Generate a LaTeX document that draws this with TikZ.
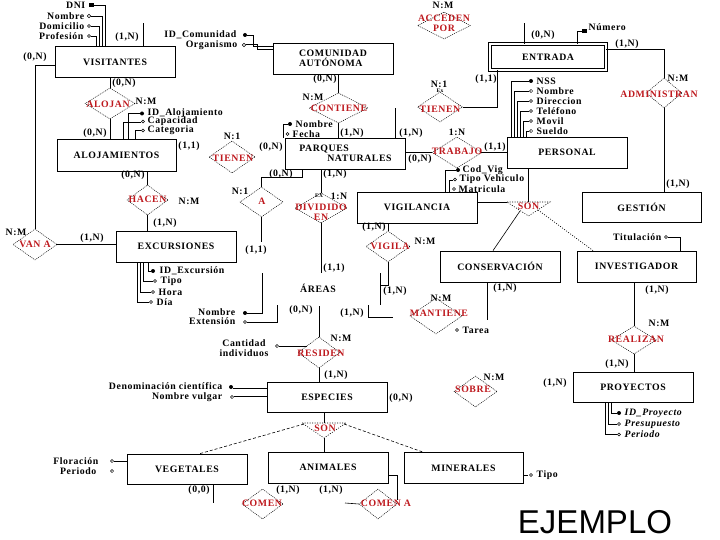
\documentclass[tikz,border=0pt]{standalone}
\usepackage{fontspec}
\setmainfont{Liberation Serif}[LetterSpace=6]
\newfontfamily\ejfont{Liberation Sans}
\usetikzlibrary{shapes.geometric}
\definecolor{relred}{RGB}{190,25,30}
\begin{document}
\begin{tikzpicture}[x=1pt,y=-1pt,
  every node/.style={font=\bfseries\fontsize{9.8}{10}\selectfont, inner sep=0.5pt},
  entbox/.style={draw, line width=0.8pt, rectangle, minimum width=120pt, minimum height=31pt, inner sep=1pt, align=center},
  reldia/.style={diamond, draw, line width=0.5pt, dash pattern=on 1pt off 1pt, inner sep=0pt},
  reltext/.style={text=relred, align=center},
  tinytxt/.style={font=\bfseries\fontsize{5.5}{6}\selectfont},
  italattr/.style={font=\bfseries\itshape\fontsize{9.8}{10}\selectfont},
  conn/.style={line width=0.6pt},
  dotconn/.style={line width=0.6pt, dash pattern=on 1pt off 1.5pt},
  dashconn/.style={line width=0.6pt, dash pattern=on 3pt off 2pt},
  hmark/.style={line width=0.5pt},
]
\useasboundingbox (0,0) rectangle (720,540);

% ---------- entities
\node[entbox] (vis) at (115,62) {VISITANTES};
\node[entbox, align=left] (com) at (333,58.5) {COMUNIDAD\\AUTÓNOMA};
\node[entbox, double, double distance=2pt, minimum width=116pt, minimum height=26pt] (entr) at (548,57) {ENTRADA};
\node[entbox, minimum width=119pt, minimum height=32pt] (aloj) at (116.5,155) {ALOJAMIENTOS};
\node[entbox, align=left] (parq) at (345.5,153.5) {PARQUES\\\hspace*{28pt}NATURALES};
\node[entbox] (pers) at (567,152.5) {PERSONAL};
\node[entbox] (exc) at (176,246.5) {EXCURSIONES};
\node[entbox] (vig) at (417,207.5) {VIGILANCIA};
\node[entbox, minimum width=119pt, minimum height=30pt] (ges) at (641.5,207) {GESTIÓN};
\node[entbox] (cons) at (500,266.5) {CONSERVACIÓN};
\node[entbox, minimum width=119pt] (inv) at (636.5,266.5) {INVESTIGADOR};
\node (areas) at (318,288) {ÁREAS};
\node[entbox, minimum height=30pt] (esp) at (327,397) {ESPECIES};
\node[entbox, minimum height=30pt] (veg) at (187,469) {VEGETALES};
\node[entbox] (ani) at (328,467.5) {ANIMALES};
\node[entbox, minimum width=119pt] (mine) at (463.5,468) {MINERALES};
\node[entbox, minimum height=30pt] (proy) at (633,387) {PROYECTOS};

% ---------- relationships
\node[reldia, minimum width=53pt, minimum height=27pt] (acc) at (444,25.5) {};
\node[reltext] (accT) at (444,23) {ACCEDEN\\POR};
\node[reldia, minimum width=50pt, minimum height=31pt] (alojan) at (110,103.5) {};
\node[reltext] (alojanT) at (108,104) {ALOJAN};
\node[reldia, minimum width=59pt, minimum height=30pt] (contiene) at (338.5,108) {};
\node[reltext] (contieneT) at (339,108) {CONTIENE};
\node[reldia, minimum width=45pt, minimum height=30pt] (tienenR) at (440,107) {};
\node[reltext] (tienenRT) at (440,109) {TIENEN};
\node[reldia, minimum width=46pt, minimum height=32pt] (tienenL) at (232,157) {};
\node[reltext] (tienenLT) at (233,158) {TIENEN};
\node[reldia, minimum width=50pt, minimum height=31pt] (trabajo) at (457,152.5) {};
\node[reltext] (trabajoT) at (457,151) {TRABAJO};
\node[reldia, minimum width=41pt, minimum height=30pt] (hacen) at (147.5,200) {};
\node[reltext] (hacenT) at (147.5,199) {HACEN};
\node[reldia, minimum width=43pt, minimum height=30pt] (arel) at (261.5,202) {};
\node[reltext] (arelT) at (262,201) {A};
\node[reldia, minimum width=52pt, minimum height=30pt] (dividido) at (321,208) {};
\node[reltext] (divididoT) at (321,212) {DIVIDIDO\\EN};
\node[reldia, minimum width=44pt, minimum height=31pt] (vigila) at (388,246.5) {};
\node[reltext] (vigilaT) at (390,246) {VIGILA};
\node[reldia, minimum width=36pt, minimum height=30pt] (admin) at (664,93) {};
\node[reltext] (adminT) at (659,94) {ADMINISTRAN};
\node[reldia, minimum width=52pt, minimum height=36pt] (mantiene) at (436,316) {};
\node[reltext] (mantieneT) at (439,313) {MANTIENE};
\node[reldia, minimum width=42pt, minimum height=31pt] (residen) at (319,352.5) {};
\node[reltext] (residenT) at (321,353) {RESIDEN};
\node[reldia, minimum width=45pt, minimum height=28pt] (realizan) at (634,340) {};
\node[reltext] (realizanT) at (636,339) {REALIZAN};
\node[reldia, minimum width=43pt, minimum height=31pt] (sobre) at (475.5,391.5) {};
\node[reltext] (sobreT) at (473,389) {SOBRE};
\node[reldia, minimum width=44pt, minimum height=31pt] (vana) at (35,244.5) {};
\node[reltext] (vanaT) at (35,244) {VAN A};
\node[reldia, minimum width=41pt, minimum height=30pt] (comen) at (262.5,504) {};
\node[reltext] (comenT) at (262,503) {COMEN};
\node[reldia, minimum width=38pt, minimum height=30pt] (comena) at (378,504) {};
\node[reltext] (comenaT) at (386,503) {COMEN A};

% ---------- SON triangles
\coordinate (sg1) at (507,202);
\coordinate (sg2) at (550,202);
\coordinate (sg3) at (528.5,216);
\draw[dotconn] (sg1) -- (sg2) -- (sg3) -- cycle;
\node[reltext] (songes) at (528.5,206) {SON};
\coordinate (se1) at (302,423);
\coordinate (se2) at (346,423);
\coordinate (se3) at (324,438);
\draw[dotconn] (se1) -- (se2) -- (se3) -- cycle;
\node[reltext] (sonesp) at (325,428) {SON};

% ---------- top stubs (ACCEDEN POR)
\coordinate (visacc) at (143,23);
\coordinate (entacc) at (524,23);
\draw[conn] (vis.north -| visacc) -- (visacc);
\draw[conn] (entr.north -| entacc) -- (entacc);
\node (l1) at (127,37) {(1,N)};
\node (l2) at (543,35) {(0,N)};
\node (l3) at (443,5) {N:M};

% ---------- VISITANTES attributes
\node[anchor=east] (dni) at (86,5) {DNI};
\fill (89,3) rectangle (94,7);
\draw[conn] (94,5) -| (vis.north -| 105,0);
\node[anchor=east] (vnom) at (85,16) {Nombre};
\draw[hmark] (89,16) circle[radius=1.7pt];
\draw[conn] (91,16) -| (vis.north -| 102,0);
\node[anchor=east] (vdom) at (85,26) {Domicilio};
\draw[hmark] (89,26) circle[radius=1.5pt];
\draw[conn] (91,26) -| (vis.north -| 99,0);
\node[anchor=east] (vpro) at (84,36) {Profesión};
\draw[hmark] (89,36) circle[radius=1.5pt];
\draw[conn] (91,36) -| (vis.north -| 96,0);

% ---------- COMUNIDAD attributes
\node[anchor=east] (idcom) at (237,35) {ID\_Comunidad};
\fill (245,35) circle[radius=2pt];
\draw[conn] (247,35) -| (253,46) -- (com.west |- 0,46);
\node[anchor=east] (org) at (238,45.5) {Organismo};
\draw[hmark] (244,45) circle[radius=1.7pt];
\draw[conn] (246,44) -| (257,49) -- (com.west |- 0,49);

% ---------- VISITANTES - VAN A / ALOJAN
\draw[conn] (vis.west |- 0,65) -| (vana.north);
\node (l4) at (35,57) {(0,N)};
\draw[conn] (vis.south -| alojan) -- (alojan.north);
\node (l5) at (124,83) {(0,N)};
\draw[conn] (alojan.south) -- (aloj.north -| alojan);
\node (l6) at (95,133) {(0,N)};
\node (l7) at (146,101.5) {N:M};

% ---------- ALOJAMIENTOS attributes
\node[anchor=west] (idal) at (147,113) {ID\_Alojamiento};
\fill (142,113.5) circle[radius=2pt];
\draw[conn] (140,113.5) -| (aloj.north -| 128,0);
\node[anchor=west] (capa) at (147,121.5) {Capacidad};
\draw[hmark] (143,121.5) circle[radius=1.5pt];
\draw[conn] (141,122) -| (aloj.north -| 123,0);
\node[anchor=west] (cate) at (147,130.5) {Categoria};
\draw[hmark] (143,130.5) circle[radius=1.5pt];
\draw[conn] (141,130.5) -| (aloj.north -| 135,0);

% ---------- TIENEN (left) labels
\node (l8) at (189,146) {(1,1)};
\node (l9) at (232,136) {N:1};
\node (l10) at (271,147) {(0,N)};

% ---------- ALOJAMIENTOS - HACEN - EXCURSIONES
\draw[conn] (aloj.south -| hacen) -- (hacen.north);
\node (l11) at (133,175) {(0,N)};
\draw[conn] (hacen.south) -- (exc.north -| hacen);
\node (l12) at (165,223) {(1,N)};
\node (l13) at (189,201) {N:M};
\draw[conn] (vana.east) -- (vana.east -| exc.west);
\node (l14) at (92,238) {(1,N)};
\node (l15) at (16,232) {N:M};

% ---------- EXCURSIONES attributes
\node[anchor=west] (idex) at (159,271) {ID\_Excursión};
\fill (153,271) circle[radius=2pt];
\draw[conn] (exc.south -| 148,0) |- (151,271);
\node[anchor=west] (tipo1) at (160,281) {Tipo};
\draw[hmark] (155,281) circle[radius=1.6pt];
\draw[conn] (exc.south -| 143,0) |- (153,281);
\node[anchor=west] (hora) at (158,292) {Hora};
\draw[hmark] (153,292) circle[radius=1.6pt];
\draw[conn] (exc.south -| 140,0) |- (151,292);
\node[anchor=west] (dia) at (156,302) {Día};
\draw[hmark] (151,302) circle[radius=1.6pt];
\draw[conn] (exc.south -| 137,0) |- (149,302);

% ---------- COMUNIDAD - CONTIENE - PARQUES
\draw[conn] (com.south -| contiene) -- (contiene.north);
\node (l16) at (325,79) {(0,N)};
\node (l17) at (313,97) {N:M};
\draw[conn] (contiene.south) -- (parq.north -| contiene);
\node (l18) at (352,133) {(1,N)};
\node[anchor=west] (pnom) at (295,124) {Nombre};
\fill (290,124) circle[radius=2pt];
\node[anchor=west] (pfec) at (292,134) {Fecha};
\draw[hmark] (287.5,134) circle[radius=1.5pt];
\draw[conn] (288,124) -| (283,138);

% ---------- PARQUES - TIENEN (right) - ENTRADA
\coordinate (ptR) at (395,108);
\draw[conn] (parq.north -| ptR) -- (ptR);
\node (l19) at (411,133) {(1,N)};
\draw[conn] (tienenR.east) -| (entr.south -| 497,0);
\node (l20) at (486,79) {(1,1)};
\node (l21) at (439,84) {N:1};
\node[tinytxt] (ex1) at (440,91) {Ex};

% ---------- PARQUES - TRABAJO - PERSONAL
\draw[conn] (parq.east |- trabajo) -- (trabajo.west);
\node (l22) at (420,159) {(0,N)};
\draw[conn] (trabajo.east) -- (trabajo.east -| pers.west);
\node (l23) at (495,147) {(1,1)};
\node (l24) at (457,132) {1:N};

% ---------- VIGILANCIA attributes
\node[anchor=west] (codv) at (462,170) {Cod\_Vig};
\fill (458,170) circle[radius=2pt];
\draw[conn] (456,170) -| (vig.north -| 445,0);
\node[anchor=west] (tipv) at (459,179.5) {Tipo Vehiculo};
\draw[hmark] (455,179.5) circle[radius=1.5pt];
\draw[conn] (453,180) -| (vig.north -| 449,0);
\node[anchor=west] (matr) at (458,189) {Matricula};
\draw[hmark] (454,189) circle[radius=1.5pt];

% ---------- SON (personal)
\draw[conn] (pers.south -| sg3) -- (sg3 |- sg1);
\draw[conn] (vig.east |- sg1) -- (sg1);
\draw[conn] (520,211) -- (cons.north -| 493,0);
\draw[dotconn] (538,210) -- (inv.north -| 593,0);

% ---------- PERSONAL attributes
\node[anchor=west] (nss) at (536,81) {NSS};
\fill (531,81) circle[radius=2pt];
\draw[conn] (529,81) -| (pers.north -| 511,0);
\node[anchor=west] (pnom2) at (536,91) {Nombre};
\draw[hmark] (531,91) circle[radius=1.6pt];
\draw[conn] (529,91) -| (pers.north -| 514,0);
\node[anchor=west] (pdir) at (536,101) {Direccion};
\draw[hmark] (531,101) circle[radius=1.5pt];
\draw[conn] (529,101) -| (pers.north -| 517,0);
\node[anchor=west] (ptel) at (536,111) {Teléfono};
\draw[hmark] (531,111) circle[radius=1.5pt];
\draw[conn] (529,111) -| (pers.north -| 520,0);
\node[anchor=west] (pmov) at (536,121) {Movil};
\draw[hmark] (531,121) circle[radius=1.5pt];
\draw[conn] (529,121) -| (pers.north -| 523,0);
\node[anchor=west] (psue) at (536,131) {Sueldo};
\draw[hmark] (531,131) circle[radius=1.6pt];
\draw[conn] (529,131) -| (pers.north -| 526,0);

% ---------- ENTRADA attribute and ADMINISTRAN
\node[anchor=west] (num) at (588,27) {Número};
\fill (582,29) rectangle (587,33);
\draw[conn] (entr.north -| 577,0) |- (582,31);
\draw[conn] (entr.east |- 0,49) -| (admin.north);
\node (l25) at (627,44) {(1,N)};
\node (l26) at (678,78) {N:M};
\draw[conn] (admin.south) -- (admin.south |- ges.north);
\node (l27) at (678,184) {(1,N)};

% ---------- DIVIDIDO EN
\draw[conn] (parq.south -| dividido) -- (dividido.north);
\node (l28) at (335,174) {(1,N)};
\node (l29) at (339,196) {1:N};
\node[tinytxt] (ex2) at (319,196) {EX};
\coordinate (divB) at (321,273);
\draw[conn] (dividido.south) -- (divB);
\node (l30) at (334,268) {(1,1)};

% ---------- A
\draw[conn] (parq.south -| 302,0) |- (arel.north |- 0,177) -- (arel.north);
\node (l31) at (281,174) {(0,N)};
\node (l32) at (240,191) {N:1};
\coordinate (aB) at (261.5,242);
\draw[conn] (arel.south) -- (aB);
\node (l33) at (256,250) {(1,1)};

% ---------- AREAS attributes
\node[anchor=east] (anom) at (236,312) {Nombre};
\fill (245,313) circle[radius=2pt];
\draw[conn] (262,273) |- (247,313);
\node[anchor=east] (aext) at (236,321.5) {Extensión};
\draw[hmark] (245,322) circle[radius=1.5pt];
\draw[conn] (277,305) |- (247,322);

% ---------- VIGILA
\draw[conn] (vig.south -| vigila) -- (vigila.north);
\node (l34) at (374,227) {(1,N)};
\node (l35) at (425,241) {N:M};
\draw[conn] (vigila.south) |- (380,285);
\draw[conn] (380,273) -- (380,305);
\node (l36) at (395,291) {(1,N)};

% ---------- MANTIENE
\draw[conn] (368,305) |- (393,317);
\node (l37) at (352,313) {(1,N)};
\node (l38) at (441,298) {N:M};
\node[anchor=west] (tarea) at (462,330) {Tarea};
\draw[hmark] (457,330) circle[radius=1.5pt];
\coordinate (consB) at (487,320);
\draw[conn] (cons.south -| consB) -- (consB);
\node (l39) at (505,288) {(1,N)};

% ---------- INVESTIGADOR / REALIZAN / PROYECTOS
\node[anchor=east] (titu) at (662,237) {Titulación};
\draw[hmark] (666,237) circle[radius=1.5pt];
\draw[conn] (668,237) -| (inv.north -| 680,0);
\draw[conn] (inv.south -| realizan) -- (realizan.north);
\node (l40) at (657,290) {(1,N)};
\node (l41) at (659,323) {N:M};
\draw[conn] (realizan.south) -- (proy.north -| realizan);
\node (l42) at (617,364) {(1,N)};
\node (l43) at (555,383) {(1,N)};
\node[anchor=west, italattr] (idp) at (624,413) {ID\_Proyecto};
\fill (619,413) circle[radius=2pt];
\draw[conn] (proy.south -| 611,0) |- (617,413);
\node[anchor=west, italattr] (pres) at (624,424) {Presupuesto};
\draw[hmark] (619,424) circle[radius=1.5pt];
\draw[conn] (proy.south -| 608,0) |- (617,424);
\node[anchor=west, italattr] (peri) at (624,434.5) {Periodo};
\draw[hmark] (619,434.5) circle[radius=1.5pt];
\draw[conn] (proy.south -| 605,0) |- (617,434.5);

% ---------- SOBRE
\node (l44) at (494,377) {N:M};
\node (l45) at (401,398) {(0,N)};

% ---------- RESIDEN
\coordinate (arB) at (319,306);
\draw[conn] (arB) -- (residen.north);
\node (l46) at (301,310) {(0,N)};
\node (l47) at (341,338) {N:M};
\draw[conn] (residen.south) -- (esp.north -| residen);
\node (l48) at (336,375) {(1,N)};
\node[align=center] (cant) at (244,348.5) {Cantidad\\individuos};
\draw[hmark] (277,346) circle[radius=1.6pt];
\draw[conn] (279,346) -- (307,346);

% ---------- ESPECIES attributes
\node[anchor=east] (deno) at (223,386) {Denominación científica};
\fill (231,387) circle[radius=2pt];
\draw[conn] (233,388) -- (esp.west |- 0,388);
\node[anchor=east] (nvul) at (223,397) {Nombre vulgar};
\draw[hmark] (232,397) circle[radius=1.6pt];
\draw[conn] (234,396) -- (esp.west |- 0,396);

% ---------- SON (especies)
\draw[conn] (esp.south -| se3) -- (se3 |- se1);
\draw[conn] (se3) -- (ani.north -| se3);
\draw[dashconn] (304,424) -- (veg.north -| 200,0);
\draw[dashconn] (344,424) -- (mine.north -| 423,0);

% ---------- VEGETALES / ANIMALES / MINERALES
\node[anchor=east] (flor) at (99,461) {Floración};
\draw[hmark] (112,461) circle[radius=1.6pt];
\draw[conn] (114,461) -- (veg.west |- 0,461);
\node[anchor=east] (peri2) at (97,471) {Periodo};
\draw[hmark] (112,471) circle[radius=1.6pt];
\coordinate (vegB) at (213,503);
\draw[conn] (veg.south -| vegB) -- (vegB);
\node (l49) at (199,490) {(0,0)};
\node (l50) at (288,490) {(1,N)};
\node (l51) at (331,490) {(1,N)};
\coordinate (cmA) at (345,503);
\draw[conn] (cmA) -- (comena.west);
\draw[conn] (ani.east |- 0,475) -| (397,500);
\draw[conn] (mine.east |- 0,475) -- (528,475);
\draw[hmark] (531,475) circle[radius=1.5pt];
\node[anchor=west] (tipo2) at (536,475) {Tipo};

% ---------- title
\node[font=\ejfont\fontsize{33}{33}\selectfont] (ej) at (595,522.5) {EJEMPLO};
\end{tikzpicture}
\end{document}
